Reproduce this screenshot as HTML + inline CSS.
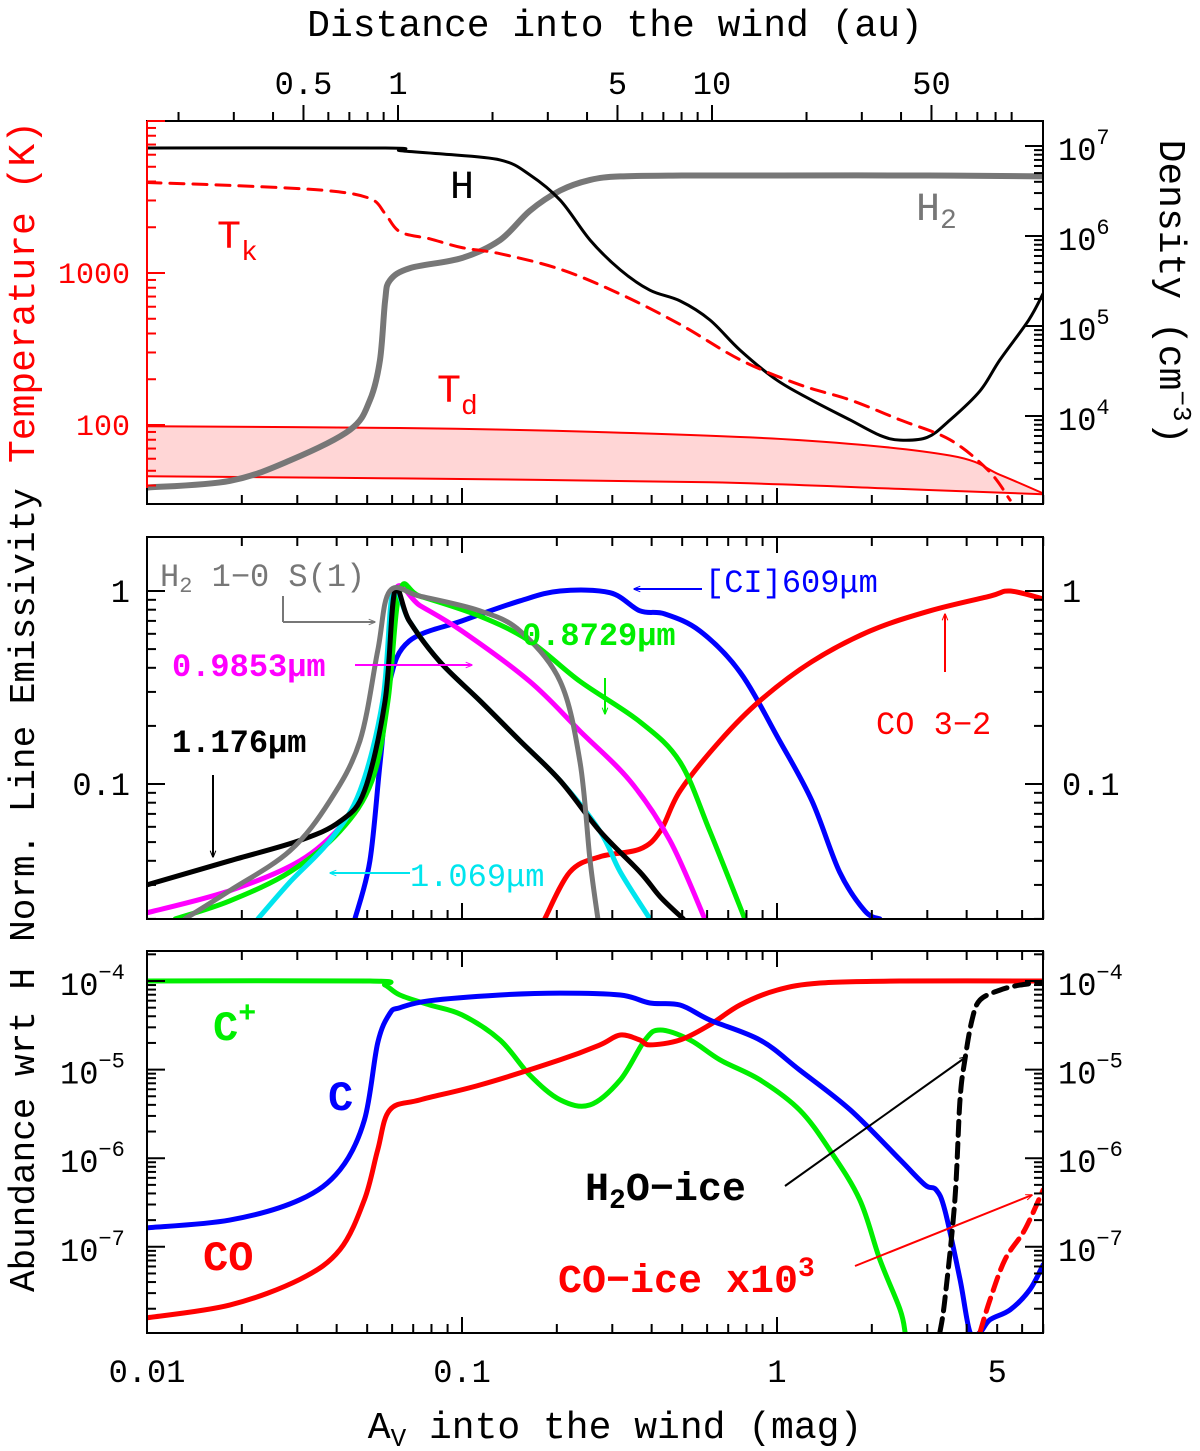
<!DOCTYPE html>
<html><head><meta charset="utf-8">
<style>
html,body{margin:0;padding:0;background:#fff;}
svg{display:block;font-family:"Liberation Mono","DejaVu Sans Mono",monospace;}
</style></head>
<body>
<svg id="chart" width="1200" height="1451" viewBox="0 0 1200 1451" xmlns="http://www.w3.org/2000/svg">
<defs>
<marker id="ah" viewBox="0 0 10 10" refX="9" refY="5" markerWidth="7" markerHeight="7" orient="auto-start-reverse" markerUnits="userSpaceOnUse"><path d="M0,1 L10,5 L0,9" fill="none" stroke="context-stroke" stroke-width="1.5"/></marker>
</defs>
<g id="marks"></g>
<g id="axes"></g>
<g id="labels">
<text x="615" y="36" font-size="38" text-anchor="middle">Distance into the wind (au)</text>
<text x="615" y="1438" font-size="38" text-anchor="middle">A<tspan font-size="26" dy="8">V</tspan><tspan dy="-8"> into the wind (mag)</tspan></text>
<text transform="translate(34,292) rotate(-90)" font-size="38" fill="#ff0000" text-anchor="middle">Temperature (K)</text>
<text transform="translate(1160,292) rotate(90)" font-size="38" text-anchor="middle">Density (cm<tspan font-size="26" dy="-14">−3</tspan><tspan dy="14">)</tspan></text>
<text transform="translate(34,715) rotate(-90)" font-size="36" text-anchor="middle">Norm. Line Emissivity</text>
<text transform="translate(34,1130) rotate(-90)" font-size="36" text-anchor="middle">Abundance wrt H</text>

<text x="450" y="198" font-size="40">H</text>
<text x="916" y="220" font-size="40" fill="#777">H<tspan font-size="28" dy="8">2</tspan></text>
<text x="217" y="248" font-size="40" fill="#ff0000">T<tspan font-size="28" dy="12">k</tspan></text>
<text x="437" y="402" font-size="40" fill="#ff0000">T<tspan font-size="28" dy="12">d</tspan></text>

<text x="160" y="586" font-size="32" fill="#777">H<tspan font-size="22" dy="6">2</tspan><tspan dy="-6"> 1−0 S(1)</tspan></text>
<text x="705" y="592" font-size="32" fill="#0000ff">[CI]609μm</text>
<text x="522" y="645" font-size="32" fill="#00ee00" font-weight="bold">0.8729μm</text>
<text x="172" y="676" font-size="32" fill="#ff00ff" font-weight="bold">0.9853μm</text>
<text x="172" y="752" font-size="32" font-weight="bold">1.176μm</text>
<text x="410" y="886" font-size="32" fill="#00e5ee">1.069μm</text>
<text x="876" y="734" font-size="32" fill="#ff0000">CO 3−2</text>

<text x="213" y="1040" font-size="42" fill="#00ee00" font-weight="bold">C<tspan font-size="30" dy="-18">+</tspan></text>
<text x="328" y="1110" font-size="42" fill="#0000ff" font-weight="bold">C</text>
<text x="203" y="1270" font-size="42" fill="#ff0000" font-weight="bold">CO</text>
<text x="585" y="1200" font-size="40" font-weight="bold">H<tspan font-size="28" dy="8">2</tspan><tspan dy="-8">O−ice</tspan></text>
<text x="558" y="1292" font-size="40" fill="#ff0000" font-weight="bold">CO−ice x10<tspan font-size="28" dy="-16">3</tspan></text>

<line x1="283" y1="596" x2="283" y2="622" stroke="#777" stroke-width="2"/>
<line x1="283" y1="622" x2="375" y2="622" stroke="#777" stroke-width="2" marker-end="url(#ah)"/>
<line x1="355" y1="665" x2="472" y2="665" stroke="#ff00ff" stroke-width="2" marker-end="url(#ah)"/>
<line x1="605" y1="678" x2="605" y2="714" stroke="#00ee00" stroke-width="2" marker-end="url(#ah)"/>
<line x1="702" y1="589" x2="634" y2="589" stroke="#0000ff" stroke-width="2" marker-end="url(#ah)"/>
<line x1="945" y1="672" x2="945" y2="614" stroke="#ff0000" stroke-width="2" marker-end="url(#ah)"/>
<line x1="213" y1="775" x2="213" y2="857" stroke="#000" stroke-width="2" marker-end="url(#ah)"/>
<line x1="410" y1="873" x2="330" y2="873" stroke="#00e5ee" stroke-width="2" marker-end="url(#ah)"/>
<line x1="785" y1="1186" x2="966" y2="1057" stroke="#000" stroke-width="2" marker-end="url(#ah)"/>
<line x1="855" y1="1266" x2="1032" y2="1195" stroke="#ff0000" stroke-width="2" marker-end="url(#ah)"/>
</g>
</svg>
<script>
// ---------- DATA ----------
// Panel 1: gas density (cm^-3)
const hAv   = [0.01,0.057,0.0635,0.085,0.132,0.164,0.205,0.255,0.318,0.395,0.492,0.612,0.763,1.0,1.29,1.71,2.12,2.46,3.0,3.54,4.41,5.10,6.3,7.0];
const hDens = [9.5e6,9.5e6,8.9e6,8.2e6,7.0e6,4.8e6,2.5e6,9.0e5,4.2e5,2.5e5,1.9e5,1.17e5,5.4e4,2.5e4,1.5e4,9.0e3,6.1e3,5.4e3,5.8e3,9.0e3,1.9e4,4.2e4,1.17e5,2.3e5];
const h2Av   = [0.01,0.0183,0.0284,0.0441,0.051,0.0549,0.057,0.059,0.0684,0.1,0.132,0.164,0.205,0.255,0.318,0.5,1.0,3.0,7.0];
const h2Dens = [1.6e3,1.9e3,3.2e3,7.0e3,1.5e4,4.2e4,1.9e5,3.2e5,4.4e5,5.7e5,9.0e5,1.9e6,3.2e6,4.2e6,4.6e6,4.7e6,4.7e6,4.7e6,4.6e6];
// Panel 1: temperatures (K)
const tkAv   = [0.01,0.0183,0.037,0.051,0.057,0.0635,0.079,0.1,0.132,0.205,0.318,0.492,0.763,1.18,1.71,2.46,3.54,4.7,5.5];
const tkTemp = [3940,3770,3490,3090,2460,1870,1680,1470,1340,1060,726,459,269,184,146,108,80,50,32];
const tdAv   = [0.01,0.0635,0.27,1.18,3.54,5.1,7.0];
const tdHigh = [98,95.5,90,79.5,63,47,35.5];
const tdLowAv= [0.01,0.0635,0.612,2.46,7.0];
const tdLow  = [46,44.5,42,38,35];
// Panel 2: normalised emissivities
const ciAv  = [0.0457,0.051,0.055,0.059,0.068,0.1,0.153,0.205,0.295,0.367,0.441,0.57,0.763,1.02,1.29,1.58,1.9,2.12];
const ciE   = [0.02,0.04,0.13,0.34,0.55,0.70,0.89,1.0,0.98,0.79,0.76,0.62,0.38,0.167,0.082,0.035,0.022,0.02];
const co32Av= [0.183,0.220,0.274,0.367,0.426,0.492,0.659,0.883,1.29,1.97,3.06,4.74,5.5,7.0];
const co32E = [0.02,0.035,0.042,0.046,0.057,0.092,0.167,0.27,0.43,0.62,0.79,0.94,1.0,0.91];
const l1176Av=[0.01,0.0183,0.0306,0.041,0.049,0.057,0.0612,0.068,0.085,0.114,0.153,0.205,0.274,0.367,0.426,0.504];
const l1176E =[0.030,0.040,0.051,0.064,0.092,0.27,1.0,0.70,0.43,0.27,0.167,0.104,0.057,0.035,0.026,0.02];
const l1069Av=[0.0225,0.0284,0.0381,0.0474,0.056,0.0604,0.068,0.085,0.114,0.153,0.205,0.274,0.318,0.395];
const l1069E =[0.02,0.031,0.051,0.092,0.27,1.0,0.70,0.43,0.27,0.167,0.104,0.057,0.035,0.02];
const l9853Av=[0.01,0.0183,0.0306,0.0426,0.051,0.057,0.0612,0.0736,0.1,0.164,0.237,0.341,0.457,0.59];
const l9853E =[0.0215,0.028,0.040,0.064,0.104,0.27,1.0,0.84,0.62,0.34,0.188,0.104,0.051,0.02];
const l8729Av=[0.0123,0.0183,0.0284,0.041,0.0518,0.0582,0.0635,0.0736,0.114,0.164,0.237,0.367,0.492,0.612,0.79];
const l8729E =[0.02,0.0248,0.035,0.057,0.104,0.27,1.0,0.94,0.74,0.55,0.34,0.21,0.13,0.057,0.02];
const s1Av  = [0.0132,0.0183,0.0284,0.0381,0.0474,0.054,0.059,0.0736,0.114,0.153,0.205,0.237,0.255,0.27];
const s1E   = [0.02,0.028,0.045,0.082,0.167,0.49,1.0,0.94,0.79,0.62,0.34,0.13,0.04,0.02];
// Panel 3: abundances wrt H
const cpAv  = [0.01,0.051,0.057,0.0635,0.079,0.1,0.132,0.164,0.205,0.255,0.318,0.381,0.426,0.53,0.659,0.883,1.18,1.47,1.83,2.12,2.46,2.55];
const cpX   = [1e-4,1e-4,9.0e-5,6.95e-5,5.36e-5,4.14e-5,2.16e-5,8.7e-6,4.55e-6,4.0e-6,7.66e-6,2.16e-5,2.8e-5,2.16e-5,1.29e-5,7.66e-6,3.5e-6,1.24e-6,3.4e-7,7.2e-8,1.95e-8,1.08e-8];
const cAv   = [0.01,0.0183,0.0306,0.041,0.049,0.054,0.059,0.0635,0.079,0.132,0.205,0.318,0.395,0.492,0.612,0.883,1.18,1.71,2.46,2.95,3.2,3.41,3.81,4.10,4.41,4.74,5.5,6.35,7.0];
const cX    = [1.64e-7,2.0e-7,3.4e-7,7.4e-7,2.7e-6,2.0e-5,4.3e-5,5.0e-5,6.0e-5,6.95e-5,7.3e-5,6.95e-5,5.65e-5,5.36e-5,3.63e-5,2.16e-5,9.9e-6,3.5e-6,9.6e-7,5.0e-7,4.4e-7,2.6e-7,4.3e-8,1.08e-8,1.08e-8,1.5e-8,1.95e-8,3.3e-8,6.3e-8];
const coAv  = [0.01,0.0183,0.0306,0.041,0.049,0.054,0.059,0.0736,0.114,0.205,0.274,0.318,0.367,0.395,0.492,0.612,0.763,1.0,1.37,2.46,7.0];
const coX   = [1.58e-8,2.2e-8,4.3e-8,9.3e-8,3.4e-7,1.24e-6,3.5e-6,4.55e-6,6.7e-6,1.29e-5,1.9e-5,2.46e-5,2.16e-5,1.9e-5,2.16e-5,3.2e-5,5.36e-5,7.9e-5,9.5e-5,1e-4,1e-4];
const iceAv = [3.29,3.41,3.67,3.81,3.95,4.16,4.41,5.1,5.9,7.0];
const iceX  = [1.08e-8,2.5e-8,3.4e-7,4.55e-6,1.29e-5,3.63e-5,6.1e-5,7.9e-5,9.0e-5,9.7e-5];
const coIceAv=[4.41,4.74,5.3,6.12,7.0];
const coIceX =[1.08e-8,2.5e-8,7.2e-8,1.56e-7,4.4e-7];
// tick values
const auTicks = [0.5,1,5,10,50];
const tempTickLabels = [100,1000];
const densTickExps = [4,5,6,7];
const emisTickLabels = ["0.1","1"];
const abunTickExps = [-7,-6,-5,-4];
const avTickLabels = ["0.01","0.1","1","5"];

// ---------- SCALES ----------
const X0=147, X1=1043, DEC=315;
const L=Math.log10;
const xs = a => X0 + DEC*(L(a)+2);
const au2x = d => 398 + 314*L(d);
const P1={t:121,b:504}, P2={t:537,b:919}, P3={t:951,b:1333};
const yT = t => 273 - 152*(L(t)-3);
const yN = n => 146 - 90*(L(n)-7);
const yE = e => 591 - 193*L(e);
const yA = v => 981 - 88.6*(L(v)+4);

const NS="http://www.w3.org/2000/svg";
const marks=document.getElementById('marks'), axes=document.getElementById('axes');
function mk(tag, attrs, parent){const e=document.createElementNS(NS,tag);for(const k in attrs)e.setAttribute(k,attrs[k]);parent.appendChild(e);return e;}
function pts(xa,ya,fy){return xa.map((a,i)=>xs(a).toFixed(1)+','+fy(ya[i]).toFixed(1));}
function smooth(p){
  const P=p.map(s=>s.split(',').map(Number));
  let d='M'+P[0][0]+','+P[0][1];
  for(let i=0;i<P.length-1;i++){const p0=P[i-1]||P[i],p1=P[i],p2=P[i+1],p3=P[i+2]||P[i+1];
    const c1=[p1[0]+(p2[0]-p0[0])/6,p1[1]+(p2[1]-p0[1])/6],c2=[p2[0]-(p3[0]-p1[0])/6,p2[1]-(p3[1]-p1[1])/6];
    d+=` C${c1[0].toFixed(1)},${c1[1].toFixed(1)} ${c2[0].toFixed(1)},${c2[1].toFixed(1)} ${p2[0].toFixed(1)},${p2[1].toFixed(1)}`;}
  return d;}
function clip(id,p){const c=mk('clipPath',{id:id},document.querySelector('defs'));mk('rect',{x:X0,y:p.t,width:X1-X0,height:p.b-p.t},c);}
clip('c1',P1);clip('c2',P2);clip('c3',P3);
function series(name,xa,ya,fy,color,w,cl,dash){
  const el=mk('path',{d:smooth(pts(xa,ya,fy)),fill:'none',stroke:color,'stroke-width':w,'stroke-linejoin':'round','stroke-linecap':'round','clip-path':`url(#${cl})`},marks);
  if(dash)el.setAttribute('stroke-dasharray',dash);
  
  
  return el;}

{
  const up=pts(tdAv,tdHigh,yT), lo=pts(tdLowAv,tdLow,yT);
  const dUp=smooth(up), loRev=lo.slice().reverse();
  const f=mk('path',{d:dUp+' L'+loRev.join(' L')+' Z',fill:'#ffd6d6',stroke:'none','clip-path':'url(#c1)'},marks);
  
  
}
series('td-upper-line',tdAv,tdHigh,yT,'#ff0000',2,'c1');
series('td-lower-line',tdLowAv,tdLow,yT,'#ff0000',2,'c1');
series('h2-density-line',h2Av,h2Dens,yN,'#777777',6,'c1');
series('h-density-line',hAv,hDens,yN,'#000000',3,'c1');
series('tk-line',tkAv,tkTemp,yT,'#ff0000',3,'c1','14 9');

series('ci609-line',ciAv,ciE,yE,'#0000ff',5,'c2');
series('co32-line',co32Av,co32E,yE,'#ff0000',5,'c2');
series('line-09853',l9853Av,l9853E,yE,'#ff00ff',5,'c2');
series('line-08729',l8729Av,l8729E,yE,'#00ee00',5,'c2');
series('line-1069',l1069Av,l1069E,yE,'#00e5ee',5,'c2');
series('line-1176',l1176Av,l1176E,yE,'#000000',5,'c2');
series('line-h2-s1',s1Av,s1E,yE,'#777777',5,'c2');

series('cplus-line',cpAv,cpX,yA,'#00ee00',5,'c3');
series('co-line',coAv,coX,yA,'#ff0000',5,'c3');
series('c-line',cAv,cX,yA,'#0000ff',5,'c3');
series('h2o-ice-line',iceAv,iceX,yA,'#000000',5,'c3','14 8');
series('co-ice-line',coIceAv,coIceX,yA,'#ff0000',5,'c3','14 8');

// ---------- AXES ----------
function frame(p,name,leftColor){
  const r=mk('rect',{x:X0,y:p.t,width:X1-X0,height:p.b-p.t,fill:'none',stroke:'#000','stroke-width':2},axes);
  
  
  if(leftColor) mk('line',{x1:X0,y1:p.t,x2:X0,y2:p.b,stroke:leftColor,'stroke-width':2},axes);
}
frame(P1,'panel-temperature-frame','#ff0000');frame(P2,'panel-emissivity-frame');frame(P3,'panel-abundance-frame');
function tick(x1,y1,x2,y2,c){mk('line',{x1,y1,x2,y2,stroke:c||'#000','stroke-width':2},axes);}
const avMaj=[], avMin=[];
for(let e=-2;e<=0;e++)for(let m=1;m<=9;m++){const v=m*Math.pow(10,e);if(v<=7.01)(m===1?avMaj:avMin).push(v);}
[P1,P2,P3].forEach((p,i)=>{
  avMaj.forEach(v=>{const x=xs(v);tick(x,p.b,x,p.b-16);if(i>0)tick(x,p.t,x,p.t+16);});
  avMin.forEach(v=>{const x=xs(v);tick(x,p.b,x,p.b-9);if(i>0)tick(x,p.t,x,p.t+9);});
});
for(let e=-1;e<=1;e++)for(let m=1;m<=9;m++){const d=m*Math.pow(10,e);const x=au2x(d);if(x<X0||x>X1)continue;
  const maj=(m===1||m===5);tick(x,P1.t,x,P1.t-(maj?16:9));}
auTicks.forEach(d=>{const t=mk('text',{x:au2x(d),y:94,'font-size':32,'text-anchor':'middle'},axes);t.textContent=String(d);
  
  });
avTickLabels.forEach(s=>{const t=mk('text',{x:xs(parseFloat(s)),y:1382,'font-size':32,'text-anchor':'middle'},axes);t.textContent=s;
  
  });
for(let e=1;e<=4;e++)for(let m=1;m<=9;m++){const v=m*Math.pow(10,e);const y=yT(v);if(y<P1.t-1||y>P1.b)continue;tick(X0,y,X0+(m===1?18:9),y,'#ff0000');}
tempTickLabels.forEach(v=>{const t=mk('text',{x:130,y:yT(v)+10,'font-size':30,'text-anchor':'end',fill:'#ff0000'},axes);t.textContent=String(v);
  
  });
for(let e=3;e<=7;e++)for(let m=1;m<=9;m++){const v=m*Math.pow(10,e);const y=yN(v);if(y<P1.t||y>P1.b)continue;tick(X1,y,X1-(m===1?18:9),y);}
densTickExps.forEach(e=>{const t=mk('text',{x:1058,y:yN(Math.pow(10,e))+14,'font-size':32},axes);
  t.innerHTML='10<tspan font-size="22" dy="-16">'+e+'</tspan>';
  
  });
for(let e=-2;e<=0;e++)for(let m=1;m<=9;m++){const v=m*Math.pow(10,e);const y=yE(v);if(y<P2.t||y>P2.b)continue;const len=m===1?18:9;tick(X0,y,X0+len,y);tick(X1,y,X1-len,y);}
emisTickLabels.forEach(s=>{const y=yE(parseFloat(s))+11;
  let t=mk('text',{x:130,y:y,'font-size':32,'text-anchor':'end'},axes);t.textContent=s;
  
  
  t=mk('text',{x:1062,y:y,'font-size':32},axes);t.textContent=s;
  
  });
for(let e=-8;e<=-4;e++)for(let m=1;m<=9;m++){const v=m*Math.pow(10,e);const y=yA(v);if(y<P3.t||y>P3.b)continue;const len=m===1?18:9;tick(X0,y,X0+len,y);tick(X1,y,X1-len,y);}
abunTickExps.forEach(e=>{const y=yA(Math.pow(10,e))+14;
  let t=mk('text',{x:60,y:y,'font-size':32},axes);t.innerHTML='10<tspan font-size="22" dy="-16">−'+(-e)+'</tspan>';
  
  
  t=mk('text',{x:1058,y:y,'font-size':32},axes);t.innerHTML='10<tspan font-size="22" dy="-16">−'+(-e)+'</tspan>';
  
  });
</script>
</body></html>
